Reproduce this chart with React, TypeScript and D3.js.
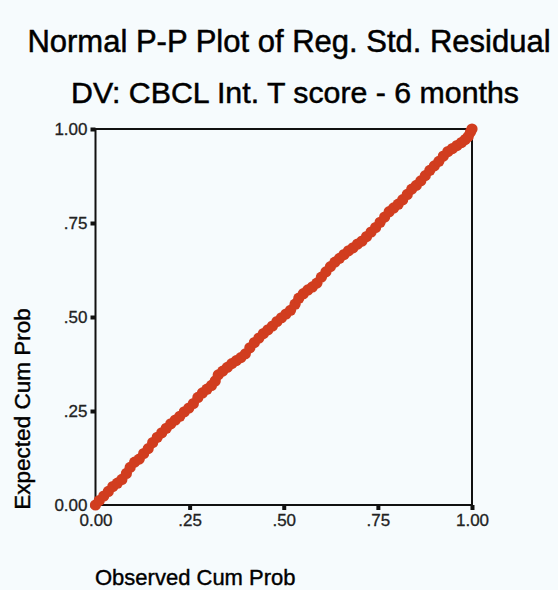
import { useEffect, useRef } from "react";
import * as d3 from "d3";

// observed vs expected cumulative probabilities
const observed = [
  0.000, 0.010, 0.022, 0.034, 0.046, 0.058, 0.070, 0.082, 0.092, 0.104,
  0.116, 0.128, 0.140, 0.152, 0.164, 0.176, 0.188, 0.200, 0.212, 0.224,
  0.236, 0.248, 0.260, 0.272, 0.284, 0.296, 0.308, 0.318, 0.326, 0.338,
  0.350, 0.362, 0.374, 0.386, 0.398, 0.410, 0.422, 0.434, 0.446, 0.458,
  0.470, 0.482, 0.494, 0.506, 0.518, 0.530, 0.540, 0.552, 0.564, 0.576,
  0.588, 0.600, 0.612, 0.624, 0.636, 0.648, 0.660, 0.672, 0.684, 0.696,
  0.708, 0.720, 0.732, 0.744, 0.756, 0.768, 0.780, 0.792, 0.804, 0.816,
  0.828, 0.840, 0.852, 0.864, 0.876, 0.888, 0.900, 0.912, 0.924, 0.936,
  0.948, 0.960, 0.972, 0.982, 0.990, 0.996, 1.000,
];
const expected = [
  0.000, 0.012, 0.024, 0.036, 0.049, 0.058, 0.068, 0.084, 0.100, 0.114,
  0.122, 0.137, 0.150, 0.166, 0.180, 0.192, 0.204, 0.216, 0.226, 0.236,
  0.248, 0.258, 0.270, 0.286, 0.298, 0.308, 0.318, 0.330, 0.346, 0.356,
  0.366, 0.376, 0.384, 0.392, 0.402, 0.418, 0.432, 0.444, 0.456, 0.466,
  0.476, 0.488, 0.498, 0.508, 0.518, 0.534, 0.550, 0.562, 0.572, 0.580,
  0.590, 0.606, 0.620, 0.634, 0.646, 0.656, 0.666, 0.676, 0.684, 0.694,
  0.702, 0.714, 0.726, 0.738, 0.752, 0.766, 0.780, 0.790, 0.800, 0.812,
  0.826, 0.840, 0.850, 0.862, 0.876, 0.890, 0.902, 0.914, 0.928, 0.940,
  0.948, 0.956, 0.964, 0.972, 0.980, 0.992, 1.000,
];

const tickValues = [0, 0.25, 0.5, 0.75, 1];
const tickLabels = ["0.00", ".25", ".50", ".75", "1.00"];
const titleLines = ["Normal P-P Plot of Reg. Std. Residual", "DV: CBCL Int. T score - 6 months"];
const xTitle = "Observed Cum Prob";
const yTitle = "Expected Cum Prob";

const W = 558;
const H = 590;
const FONT = "Arial, 'Liberation Sans', sans-serif";

export default function App() {
  const svgRef = useRef<SVGSVGElement | null>(null);

  useEffect(() => {
    if (!svgRef.current) return;
    const svg = d3.select(svgRef.current);
    svg.selectAll("*").remove();

    const x = d3.scaleLinear().domain([0, 1]).range([95.5, 472]);
    const y = d3.scaleLinear().domain([0, 1]).range([505, 129]);

    svg.append("rect").attr("width", W).attr("height", H).attr("fill", "#f6fbfd");

    // titles (scan looks a bit heavier, so a thin stroke)
    svg.selectAll("text.title")
      .data(titleLines)
      .join("text")
      .attr("class", "title")
      .attr("x", (d, i) => (i === 0 ? 289 : 295))
      .attr("y", (d, i) => 52 + i * 51)
      .attr("text-anchor", "middle")
      .attr("font-family", FONT)
      .attr("font-size", (d, i) => (i === 0 ? 31 : 30.3))
      .attr("fill", "#000")
      .attr("stroke", "#000")
      .attr("stroke-width", 0.5)
      .text((d) => d);

    // axes (ticks only left and bottom)
    const yAxis = d3.axisLeft(y)
      .tickValues(tickValues)
      .tickFormat((d, i) => tickLabels[i])
      .tickSize(5)
      .tickPadding(3);
    const xAxis = d3.axisBottom(x)
      .tickValues(tickValues)
      .tickFormat((d, i) => tickLabels[i])
      .tickSize(5)
      .tickPadding(4);

    const gy = svg.append("g").attr("transform", `translate(${x(0)},0)`).call(yAxis);
    const gx = svg.append("g").attr("transform", `translate(0,${y(0)})`).call(xAxis);
    [gx, gy].forEach((g) => {
      g.select(".domain").remove();
      g.selectAll(".tick line").attr("stroke", "#111").attr("stroke-width", 4);
      g.selectAll(".tick text")
        .attr("font-family", FONT)
        .attr("font-size", 17)
        .attr("fill", "#222")
        .attr("stroke", "#222")
        .attr("stroke-width", 0.3);
    });

    // plot frame
    svg.append("rect")
      .attr("x", x(0))
      .attr("y", y(1))
      .attr("width", x(1) - x(0))
      .attr("height", y(0) - y(1))
      .attr("fill", "none")
      .attr("stroke", "#111")
      .attr("stroke-width", 2);

    // points
    svg.append("g")
      .selectAll("circle")
      .data(observed.map((o, i) => [o, expected[i]]))
      .join("circle")
      .attr("cx", (d) => x(d[0]))
      .attr("cy", (d) => y(d[1]))
      .attr("r", 5.6)
      .attr("fill", "#d13d1f");

    // axis titles
    svg.append("text")
      .attr("x", 95)
      .attr("y", 585)
      .attr("font-family", FONT)
      .attr("font-size", 22)
      .attr("fill", "#000")
      .attr("stroke", "#000")
      .attr("stroke-width", 0.4)
      .text(xTitle);

    svg.append("text")
      .attr("transform", "translate(30,409) rotate(-90)")
      .attr("text-anchor", "middle")
      .attr("font-family", FONT)
      .attr("font-size", 22.5)
      .attr("fill", "#000")
      .attr("stroke", "#000")
      .attr("stroke-width", 0.4)
      .text(yTitle);
  }, []);

  return (
    <svg
      ref={svgRef}
      width={W}
      height={H}
      style={{ position: "absolute", left: 0, top: 0, display: "block" }}
    />
  );
}
